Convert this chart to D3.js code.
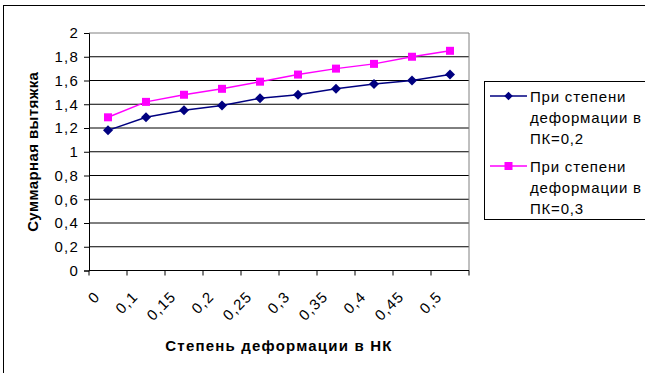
<!DOCTYPE html>
<html>
<head>
<meta charset="utf-8">
<script src="https://cdn.jsdelivr.net/npm/d3@7/dist/d3.min.js"></script>
<style>
  html, body { margin: 0; padding: 0; background: #fff; }
  svg { display: block; font-family: "Liberation Sans", Arial, sans-serif; }
</style>
</head>
<body>
<svg id="chart" width="645" height="373"></svg>
<script>
// Degree of deformation in НК (x categories)
const categories = ["0", "0,1", "0,15", "0,2", "0,25", "0,3", "0,35", "0,4", "0,45", "0,5"];
// Total draw ratio at ПК = 0,2
const seriesPK02 = [1.18, 1.29, 1.35, 1.39, 1.45, 1.48, 1.53, 1.57, 1.60, 1.65];
// Total draw ratio at ПК = 0,3
const seriesPK03 = [1.29, 1.42, 1.48, 1.53, 1.59, 1.65, 1.70, 1.74, 1.80, 1.85];
const yTicks = [0, 0.2, 0.4, 0.6, 0.8, 1, 1.2, 1.4, 1.6, 1.8, 2];
const seriesNames = [
  ["При степени", "деформации в", "ПК=0,2"],
  ["При степени", "деформации в", "ПК=0,3"]
];

const FS = 15, LS = "1.2px";
const svg = d3.select("#chart");
const plot = { left: 89, right: 469, top: 33, bottom: 270.5 };

// outer chart frame
svg.append("rect")
  .attr("x", 3.5).attr("y", 5.5).attr("width", 700).attr("height", 400)
  .attr("fill", "none").attr("stroke", "#000").attr("stroke-width", 1);

const x = d3.scaleBand().domain(categories).range([plot.left, plot.right]).padding(0);
const y = d3.scaleLinear().domain([0, 2]).range([plot.bottom, plot.top]);
const fmt = v => String(+v.toFixed(1)).replace(".", ",");

// horizontal gridlines
svg.append("g").selectAll("line")
  .data(yTicks.filter(t => t > 0 && t < 2))
  .join("line")
  .attr("x1", plot.left).attr("x2", plot.right)
  .attr("y1", d => y(d)).attr("y2", d => y(d))
  .attr("stroke", "#000").attr("stroke-width", 1);

// plot area top and right border
svg.append("path")
  .attr("d", `M${plot.left},${y(2)}H${plot.right}V${plot.bottom}`)
  .attr("fill", "none").attr("stroke", "#808080").attr("stroke-width", 1);

// y axis
const yAxis = d3.axisLeft(y).tickValues(yTicks).tickFormat(fmt).tickSize(5).tickPadding(5);
const gy = svg.append("g").attr("transform", `translate(${plot.left},0)`).call(yAxis);
gy.select(".domain").attr("stroke", "#000");
gy.selectAll(".tick line").attr("stroke", "#000");
gy.selectAll(".tick text").attr("font-size", FS).attr("fill", "#000")
  .style("letter-spacing", LS)
  .style("font-family", "'Liberation Sans', Arial, sans-serif");

// x axis: ticks on category boundaries
const boundaries = categories.map(c => x(c)).concat([plot.right]);
svg.append("line")
  .attr("x1", plot.left).attr("x2", plot.right)
  .attr("y1", plot.bottom).attr("y2", plot.bottom)
  .attr("stroke", "#000");
svg.append("g").selectAll("line").data(boundaries).join("line")
  .attr("x1", d => d).attr("x2", d => d)
  .attr("y1", plot.bottom).attr("y2", plot.bottom + 5)
  .attr("stroke", "#000");

// rotated category labels
svg.append("g").selectAll("text").data(categories).join("text")
  .attr("transform", d => `translate(${x(d) + x.bandwidth() / 2 - 7},${plot.bottom + 27}) rotate(-45)`)
  .attr("text-anchor", "end")
  .attr("font-size", FS)
  .style("letter-spacing", LS)
  .text(d => d);

// axis titles
svg.append("text")
  .attr("x", (plot.left + plot.right) / 2).attr("y", 351)
  .attr("text-anchor", "middle").attr("font-size", FS).attr("font-weight", "bold")
  .style("letter-spacing", LS)
  .text("Степень деформации в НК");
svg.append("text")
  .attr("transform", `translate(38,${(plot.top + plot.bottom) / 2}) rotate(-90)`)
  .attr("text-anchor", "middle").attr("font-size", FS).attr("font-weight", "bold")
  .style("letter-spacing", "0.4px")
  .text("Суммарная вытяжка");

const cx = (d, i) => x(categories[i]) + x.bandwidth() / 2;
const line = d3.line().x((d, i) => cx(d, i)).y(d => y(d));

const blue = "#000080", pink = "#FF00FF";

// series ПК=0,2
svg.append("path").datum(seriesPK02).attr("d", line)
  .attr("fill", "none").attr("stroke", blue).attr("stroke-width", 1.5);
svg.append("g").selectAll("path").data(seriesPK02).join("path")
  .attr("d", d3.symbol().type(d3.symbolSquare).size(50)())
  .attr("transform", (d, i) => `translate(${cx(d, i)},${y(d)}) rotate(45)`)
  .attr("fill", blue);

// series ПК=0,3
svg.append("path").datum(seriesPK03).attr("d", line)
  .attr("fill", "none").attr("stroke", pink).attr("stroke-width", 1.5);
svg.append("g").selectAll("rect").data(seriesPK03).join("rect")
  .attr("x", (d, i) => cx(d, i) - 4).attr("y", d => y(d) - 4)
  .attr("width", 8).attr("height", 8)
  .attr("fill", pink);

// legend
const legend = svg.append("g");
legend.append("rect")
  .attr("x", 484.5).attr("y", 81.5).attr("width", 200).attr("height", 138)
  .attr("fill", "#fff").attr("stroke", "#000");
const entryTop = [96, 166];
[blue, pink].forEach((col, k) => {
  const ly = entryTop[k];
  legend.append("line").attr("x1", 490).attr("x2", 527).attr("y1", ly).attr("y2", ly)
    .attr("stroke", col).attr("stroke-width", 1.5);
  if (k === 0) {
    legend.append("path").attr("d", d3.symbol().type(d3.symbolSquare).size(36)())
      .attr("transform", `translate(508.5,${ly}) rotate(45)`).attr("fill", col);
  } else {
    legend.append("rect").attr("x", 504.5).attr("y", ly - 4).attr("width", 8).attr("height", 8)
      .attr("fill", col);
  }
  seriesNames[k].forEach((t, j) => {
    legend.append("text").attr("x", 530).attr("y", ly + 5.5 + j * 21)
      .attr("font-size", FS).style("letter-spacing", "0.8px").text(t);
  });
});
</script>
</body>
</html>
